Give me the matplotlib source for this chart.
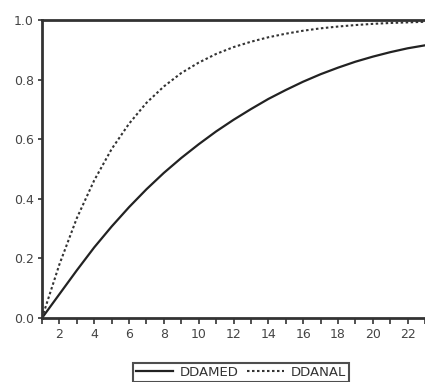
import matplotlib
matplotlib.use("Agg")
from matplotlib import pyplot as plt
from matplotlib.ticker import MultipleLocator

periods = list(range(1, 24))

ddamed = [0.0, 0.08, 0.16, 0.237, 0.307, 0.372, 0.432, 0.487, 0.537, 0.583,
          0.626, 0.665, 0.701, 0.735, 0.765, 0.793, 0.818, 0.84, 0.86, 0.877,
          0.892, 0.905, 0.915]

ddanal = [0.0, 0.18, 0.335, 0.462, 0.567, 0.652, 0.722, 0.777, 0.822, 0.857,
          0.886, 0.909, 0.927, 0.942, 0.954, 0.964, 0.972, 0.978, 0.983, 0.987,
          0.99, 0.992, 0.994]

labels = ["DDAMED", "DDANAL"]
y_ticks = [0.0, 0.2, 0.4, 0.6, 0.8, 1.0]
x_ticks = list(range(2, 24, 2))

fig = plt.figure(figsize=(4.25, 3.82), dpi=100)
ax = fig.add_axes([42 / 425, 1 - 318 / 382, (425 - 42) / 425, 298 / 382])

ax.plot(periods, ddamed, color='#222', linewidth=1.6, label=labels[0])
ax.plot(periods, ddanal, color='#333', linewidth=1.5,
        linestyle=(0, (1.2, 1.2)), label=labels[1])

ax.set_xlim(1, 23)
ax.set_ylim(0, 1)
ax.set_yticks(y_ticks)
ax.set_yticklabels(["%.1f" % v for v in y_ticks])
ax.set_xticks(x_ticks)
ax.set_xticklabels([str(v) for v in x_ticks])
ax.xaxis.set_minor_locator(MultipleLocator(1))

for side in ['top', 'left', 'bottom']:
    ax.spines[side].set_linewidth(2)
    ax.spines[side].set_color('#333')
ax.spines['right'].set_visible(False)

ax.tick_params(axis='both', which='both', direction='out', colors='#333',
               labelsize=9, width=1.2, labelcolor='#444')
ax.tick_params(axis='y', length=3, pad=3)
ax.tick_params(axis='x', which='both', length=4, pad=3)

leg = fig.legend(loc='upper center', bbox_to_anchor=(241 / 425, 1 - 356 / 382),
                 ncol=2, fontsize=9.5, frameon=True, fancybox=False,
                 handlelength=2.8, columnspacing=0.6, handletextpad=0.5,
                 borderpad=0.25)
leg.get_frame().set_edgecolor('#222')
leg.get_frame().set_linewidth(1.5)
for t in leg.get_texts():
    t.set_color('#333')

plt.savefig("out.png", dpi=100)
